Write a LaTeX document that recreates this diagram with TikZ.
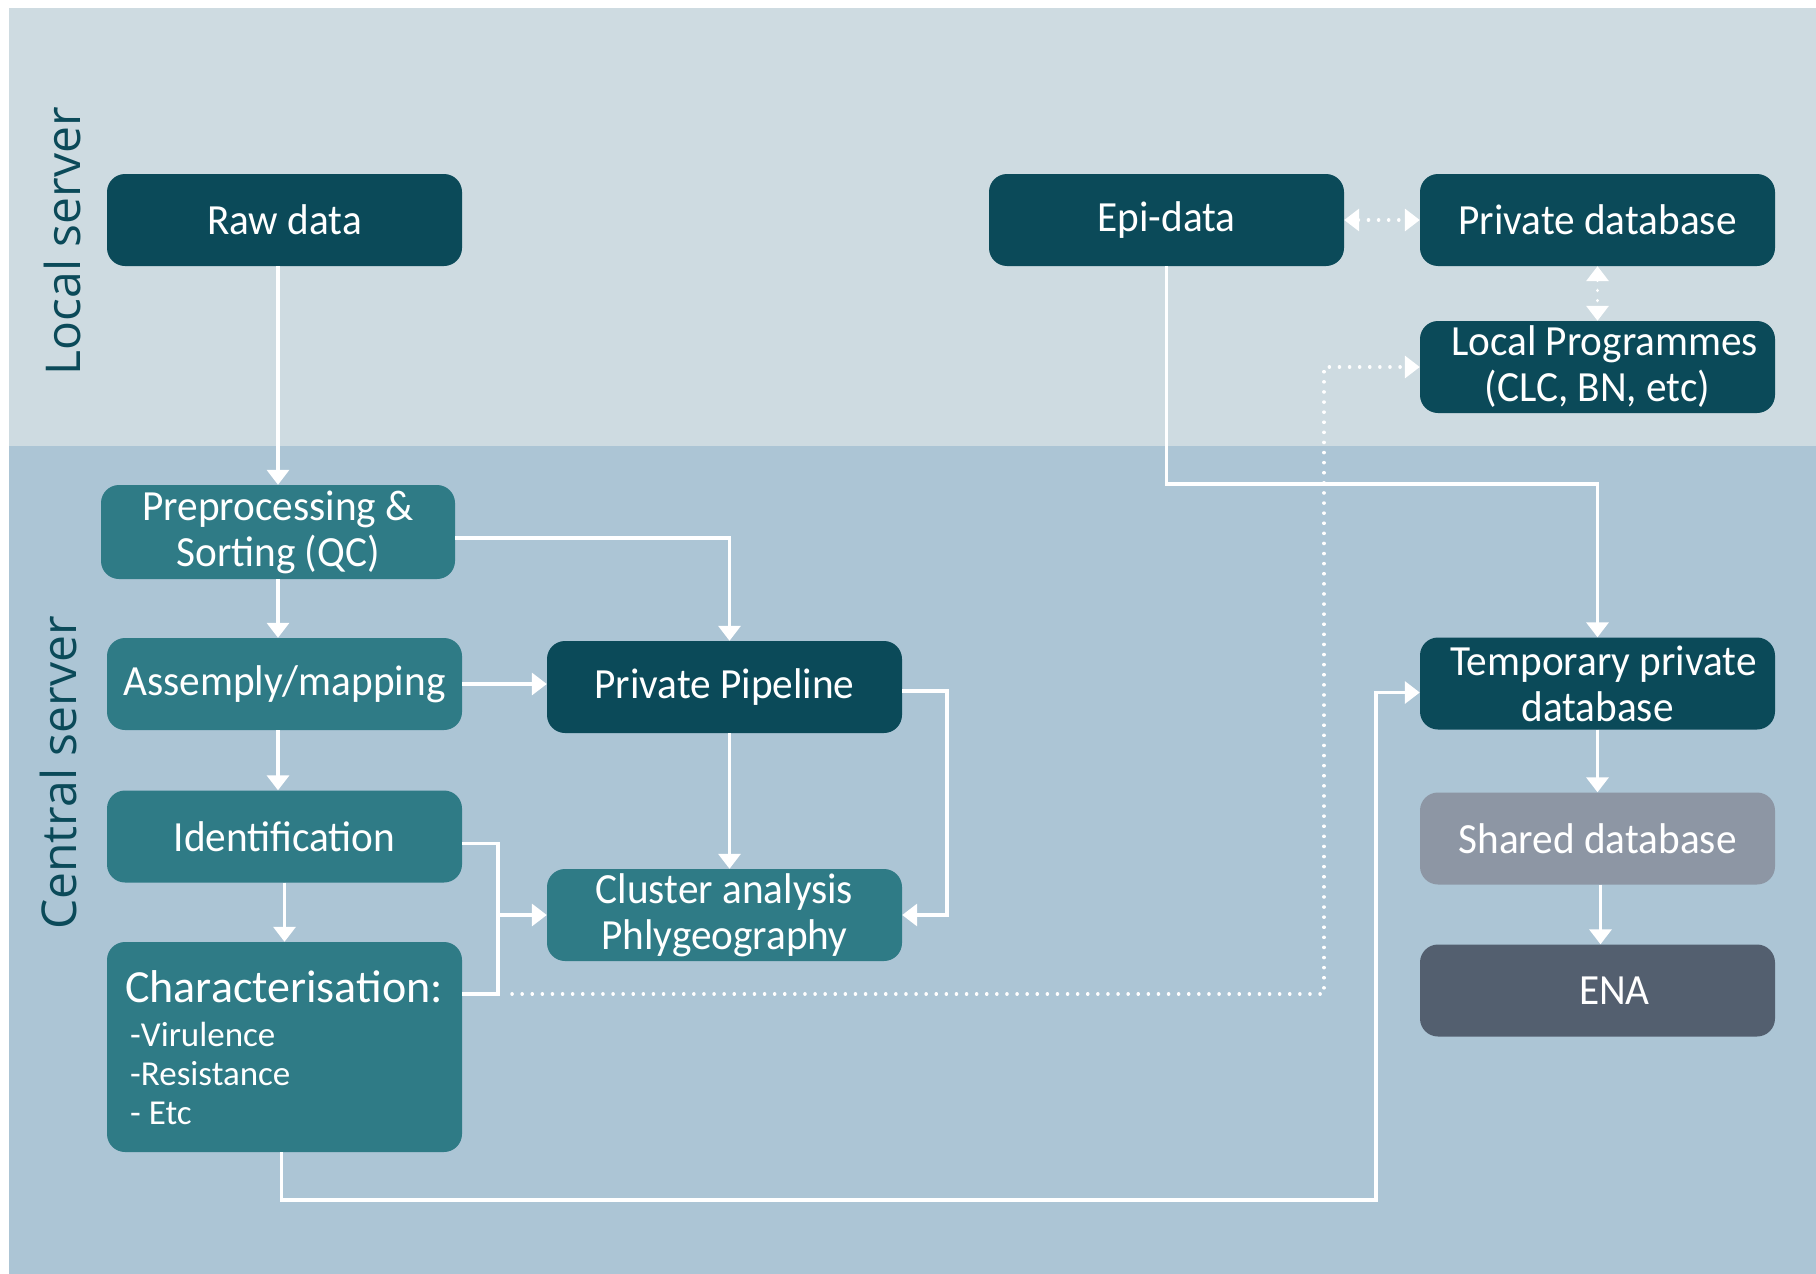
\documentclass[tikz,border=0pt]{standalone}
\usepackage{fontspec}
\setmainfont[FakeStretch=0.96]{Carlito}
\newfontfamily\titlefont{Carlito}
\newfontfamily\sidefont{Open Sans}
\usetikzlibrary{calc}
\usetikzlibrary{arrows.meta}

\definecolor{bandtop}{HTML}{CEDBE1}
\definecolor{bandlow}{HTML}{ACC5D5}
\definecolor{darkteal}{HTML}{0B4A59}
\definecolor{midteal}{HTML}{2F7B86}
\definecolor{shgrey}{HTML}{8D96A4}
\definecolor{enagrey}{HTML}{535F6F}

\tikzset{
  box/.style={rounded corners=18pt, minimum width=355pt, minimum height=92pt,
    text=white, align=center, inner sep=0pt, font=\fontsize{43}{46}\selectfont},
  darkbox/.style={box, fill=darkteal},
  midbox/.style={box, fill=midteal},
  link/.style={white, line width=3.5pt},
  dotlink/.style={white, line width=3.5pt, line cap=round, dash pattern=on 0.1pt off 10pt},
}

\begin{document}
\begin{tikzpicture}[x=1pt, y=-1pt, >={Triangle[width=22pt,length=15pt]}]
\useasboundingbox (0,0) rectangle (1816,1274);
\fill[white] (0,0) rectangle (1816,1274);
\fill[bandtop] (9,8) rectangle (1816,446);
\fill[bandlow] (9,446) rectangle (1816,1274);

% server labels
\node[rotate=90, text=darkteal, font=\sidefont\fontsize{48}{50}\selectfont] (lbllocal) at (62,241) {Local server};
\node[rotate=90, text=darkteal, font=\sidefont\fontsize{48}{50}\selectfont] (lblcentral) at (58,773) {Central server};

% local server
\node[darkbox] (raw) at (284.5,220) {Raw data};
\node[darkbox] (epi) at (1166.5,220) {Epi-data};
\node[darkbox] (privdb) at (1597.5,220) {Private database};
\node[darkbox] (localprog) at (1597.5,367) {\hspace*{14pt}Local Programmes\\(CLC, BN, etc)};

% central server
\node[midbox, minimum width=354pt, minimum height=94pt] (pre) at (278,532) {Preprocessing \&\\Sorting (QC)};
\node[midbox] (asm) at (284.5,684) {Assemply/mapping};
\node[darkbox] (pipe) at (724.5,687) {Private Pipeline};
\node[midbox] (ident) at (284.5,836.5) {Identification};
\node[midbox] (cluster) at (724.5,915) {Cluster analysis\\Phlygeography};
\node[midbox, minimum height=210pt] (charact) at (284.5,1047) {};
\node[anchor=base west, text=white, inner sep=0pt, font=\titlefont\fontsize{46}{50}\selectfont] (chartitle) at (125,1002) {Characterisation:};
\foreach \item [count=\i] in {-Virulence,-Resistance,- Etc}
  \node[anchor=base west, text=white, inner sep=0pt, font=\titlefont\fontsize{35}{38}\selectfont] (item\i) at (130,{1046+39*(\i-1)}) {\item};
\node[darkbox] (temp) at (1597.5,683.5) {\hspace*{12pt}Temporary private\\database};
\node[box, fill=shgrey] (shared) at (1597.5,838.5) {Shared database};
\node[box, fill=enagrey] (ena) at (1597.5,990.5) {\hspace*{34pt}ENA};

% bends
\coordinate (merge) at (498,915);
\coordinate (charout) at (462,994);
\coordinate (dotbend) at (1324,994);
\coordinate (lowbend) at (1376,1200);

% connectors
\draw[link,->] (pre.north |- raw.south) -- (pre.north);
\draw[link,->] (pre.south) -- (pre.south |- asm.north);
\draw[link,->] ([yshift=-6pt]pre.east) -| ([xshift=5pt]pipe.north);
\draw[link,->] (asm.east) -- (asm.east -| pipe.west);
\draw[link,->] (pre.south |- asm.south) -- (pre.south |- ident.north);
\draw[link,->] (ident.south) -- (charact.north);
\draw[link,->] ([xshift=5pt]pipe.south) -- ([xshift=5pt]cluster.north);
\draw[link,->] ([yshift=-4pt]pipe.east) -- ++(45,0) |- (cluster.east);
\draw[link] ([yshift=-7pt]ident.east) -| (merge);
\draw[link] (charout) -| (merge);
\draw[link,->] (merge) -- (cluster.west);
\draw[dotlink,->] ([xshift=14pt]merge |- charout) -- (dotbend) |- (localprog.west);
\draw[link,->] ([xshift=-3pt]charact.south) |- (lowbend) |- ([yshift=-9pt]temp.west);
\draw[link,->] (epi.south) -- ++(0,218) -| (temp.north);
\draw[dotlink,<->] (epi.east) -- (privdb.west);
\draw[dotlink,<->] (privdb.south) -- (localprog.north);
\draw[link,->] (temp.south) -- (shared.north);
\draw[link,->] ([xshift=3pt]shared.south) -- ([xshift=3pt]ena.north);
\end{tikzpicture}
\end{document}
